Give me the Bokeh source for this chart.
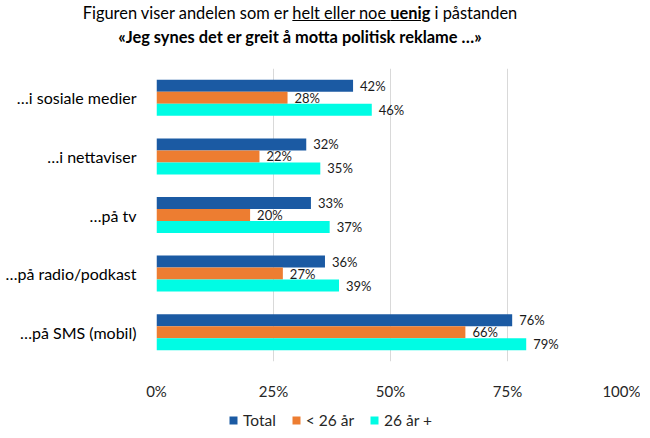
from bokeh.plotting import figure
from bokeh.models import ColumnDataSource, FactorRange, Legend, LegendItem, LabelSet, FixedTicker, Div
from bokeh.core.properties import value
from bokeh.transform import dodge
from bokeh.layouts import column
from bokeh.embed import file_html
from bokeh.resources import INLINE

categories = ["…i sosiale medier", "…i nettaviser", "…på tv", "…på radio/podkast", "…på SMS (mobil)"]
total = [42, 32, 33, 36, 76]
under26 = [28, 22, 20, 27, 66]
over26 = [46, 35, 37, 39, 79]
series_names = ["Total", "< 26 år", "26 år +"]
x_ticks = [0, 25, 50, 75, 100]
x_tick_labels = ["0%", "25%", "50%", "75%", "100%"]

colors = ["#1B5AA3", "#ED7D31", "#00FCE4"]
FONT = "Lato"

src = ColumnDataSource(dict(
    cat=categories,
    total=total, under26=under26, over26=over26,
    total_lbl=[f"{v}%" for v in total],
    under26_lbl=[f"{v}%" for v in under26],
    over26_lbl=[f"{v}%" for v in over26],
))

title_html = (
    '<div style="width:600px; font-family:Lato; font-size:16.4px; line-height:24px; text-align:center; '
    'color:#000; padding-top:1px;">'
    'Figuren viser andelen som er <u>helt eller noe <b>uenig</b></u> i påstanden<br>'
    '<b>«Jeg synes det er greit å motta politisk reklame …»</b></div>'
)
div = Div(text=title_html, width=600, height=52, margin=(0, 0, 0, 0))

p = figure(y_range=FactorRange(factors=list(reversed(categories))), x_range=(0, 100),
           width=640, height=350, output_backend="svg", toolbar_location=None,
           min_border_left=156, min_border_right=16, min_border_top=16, min_border_bottom=41)

H = 0.205
fields = ["total", "under26", "over26"]
offsets = [H, 0.0, -H]
for f, off, c in zip(fields, offsets, colors):
    p.hbar(y=dodge("cat", off, range=p.y_range), left=0, right=f, height=H,
           source=src, fill_color=c, line_color=None)
    lbl = LabelSet(x=f, y=dodge("cat", off, range=p.y_range), text=f + "_lbl", source=src,
                   x_offset=7, text_baseline="middle", text_align="left",
                   text_font=value(FONT), text_font_size=value("13px"), text_color=value("#1a1a1a"))
    p.add_layout(lbl)

p.xaxis.ticker = FixedTicker(ticks=x_ticks)
p.xaxis.major_label_overrides = {t: l for t, l in zip(x_ticks, x_tick_labels)}
p.xaxis.axis_line_color = None
p.xaxis.major_tick_line_color = None
p.xaxis.minor_tick_line_color = None
p.xaxis.major_label_standoff = 14
p.xaxis.major_label_text_font = FONT
p.xaxis.major_label_text_font_size = "15px"
p.xaxis.major_label_text_color = "#262626"

p.yaxis.axis_line_color = None
p.yaxis.major_tick_line_color = None
p.yaxis.minor_tick_line_color = None
p.yaxis.major_label_standoff = 14
p.yaxis.major_label_text_font = FONT
p.yaxis.major_label_text_font_size = "16px"
p.yaxis.major_label_text_color = "#000000"

p.xgrid.grid_line_color = "#D9D9D9"
p.ygrid.grid_line_color = None
p.outline_line_color = None

# Legend strip: a small figure whose bars fall outside its ranges, only its legend shows
lf = figure(y_range=FactorRange(factors=["-"]), x_range=(0, 100),
            width=640, height=36, output_backend="svg", toolbar_location=None,
            min_border_left=156, min_border_right=16, min_border_top=0, min_border_bottom=0)
lf.xaxis.visible = False
lf.yaxis.visible = False
lf.xgrid.visible = False
lf.ygrid.visible = False
lf.outline_line_color = None
leg_renderers = []
for f, c in zip(fields, colors):
    r = lf.hbar(y="cat", left=0, right=f, height=H,
                source=src, fill_color=c, line_color=None)
    leg_renderers.append(r)

legend = Legend(items=[LegendItem(label=n, renderers=[r]) for n, r in zip(series_names, leg_renderers)],
                orientation="horizontal", location=(72, 9),
                glyph_width=10, glyph_height=10, label_standoff=5, spacing=15,
                label_text_font=FONT, label_text_font_size="15.5px", label_text_color="#262626",
                border_line_color=None, background_fill_alpha=0, padding=0, margin=0)
lf.add_layout(legend)

layout = column(div, p, lf, spacing=0)
open("out.html", "w").write(file_html(layout, INLINE))
